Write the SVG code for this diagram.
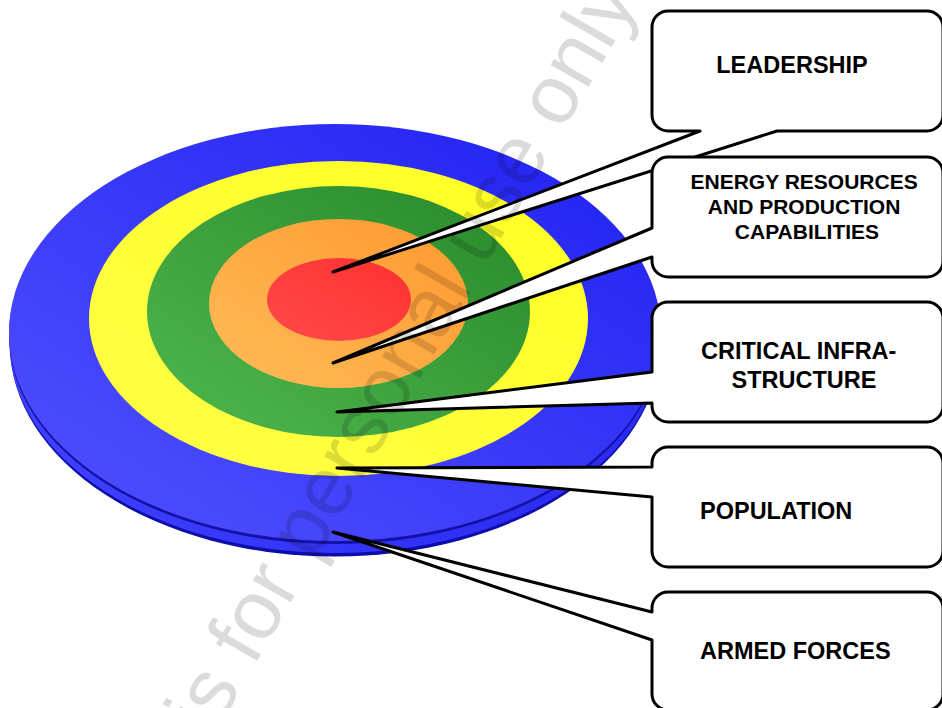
<svg xmlns="http://www.w3.org/2000/svg" width="942" height="708" viewBox="0 0 942 708">
  <defs>
    <linearGradient id="gBlue" x1="0" y1="1" x2="1" y2="0">
      <stop offset="0" stop-color="#5252ff"/>
      <stop offset="1" stop-color="#2020f2"/>
    </linearGradient>
    <linearGradient id="gYellow" x1="0" y1="1" x2="1" y2="0">
      <stop offset="0" stop-color="#ffff48"/>
      <stop offset="1" stop-color="#ffff22"/>
    </linearGradient>
    <linearGradient id="gGreen" x1="0" y1="1" x2="1" y2="0">
      <stop offset="0" stop-color="#50b84e"/>
      <stop offset="1" stop-color="#28882a"/>
    </linearGradient>
    <linearGradient id="gOrange" x1="0" y1="1" x2="1" y2="0">
      <stop offset="0" stop-color="#ffbc58"/>
      <stop offset="1" stop-color="#ff982e"/>
    </linearGradient>
    <linearGradient id="gRed" x1="0" y1="1" x2="1" y2="0">
      <stop offset="0" stop-color="#ff4a4a"/>
      <stop offset="1" stop-color="#ff3030"/>
    </linearGradient>
    <linearGradient id="gRim" x1="0" y1="0" x2="1" y2="0">
      <stop offset="0" stop-color="#4040ff"/>
      <stop offset="1" stop-color="#2a2af0"/>
    </linearGradient>
  </defs>
  <style>
    .callout { fill: #ffffff; stroke: #000000; stroke-width: 3; stroke-linejoin: round; }
    .label { font-family: "Liberation Sans", Arial, sans-serif; font-weight: bold; font-size: 23.5px; fill: #000000; }
    .label.small { font-size: 21px; }
    .watermark { font-family: "Liberation Sans", Arial, sans-serif; font-size: 83px; fill: #000000; fill-opacity: 0.14; }
  </style>

  <rect width="942" height="708" fill="#ffffff"/>

  <!-- target disk: rim layers, then the top face and its rings -->
  <g id="target">
    <ellipse cx="335" cy="345" rx="325" ry="211.5" fill="#0d0dac"/>
    <ellipse cx="335" cy="342.5" rx="325.5" ry="210.5" fill="url(#gRim)"/>
    <ellipse cx="335" cy="335" rx="326" ry="209" fill="#1212a8"/>
    <ellipse cx="335" cy="332.5" rx="326" ry="208.5" fill="url(#gBlue)"/>
    <ellipse cx="338.5" cy="318.5" rx="249.5" ry="157.5" fill="url(#gYellow)"/>
    <ellipse cx="338.5" cy="311.5" rx="191.5" ry="125.5" fill="url(#gGreen)"/>
    <ellipse cx="338.5" cy="303.5" rx="129.5" ry="84.5" fill="url(#gOrange)"/>
    <ellipse cx="339" cy="299.5" rx="72" ry="41.5" fill="url(#gRed)"/>
  </g>

  <!-- callouts: each box carries its own pointer into the target -->
  <g id="leadership">
    <path class="callout" d="M668,11 H927 A16,16 0 0 1 943,27 V115 A16,16 0 0 1 927,131 H777 L333,272 L700,131 H668 A16,16 0 0 1 652,115 V27 A16,16 0 0 1 668,11 Z"/>
    <text class="label" x="792" y="73" text-anchor="middle">LEADERSHIP</text>
  </g>

  <g id="energy">
    <path class="callout" d="M668,157 H927 A16,16 0 0 1 943,173 V261 A16,16 0 0 1 927,277 H668 A16,16 0 0 1 652,261 V257 L333,363 L652,228 V173 A16,16 0 0 1 668,157 Z"/>
    <text class="label small" text-anchor="middle">
      <tspan x="807" y="189">ENERGY RESOURCES</tspan>
      <tspan x="807" y="214">AND PRODUCTION</tspan>
      <tspan x="807" y="239">CAPABILITIES</tspan>
    </text>
  </g>

  <g id="critical-infrastructure">
    <path class="callout" d="M668,302 H927 A16,16 0 0 1 943,318 V406 A16,16 0 0 1 927,422 H668 A16,16 0 0 1 652,406 V403 L337,412 L652,372 V318 A16,16 0 0 1 668,302 Z"/>
    <text class="label" text-anchor="middle">
      <tspan x="802" y="359">CRITICAL INFRA-</tspan>
      <tspan x="804" y="388">STRUCTURE</tspan>
    </text>
  </g>

  <g id="population">
    <path class="callout" d="M668,447 H927 A16,16 0 0 1 943,463 V551 A16,16 0 0 1 927,567 H668 A16,16 0 0 1 652,551 V497 L337,468 L652,467 V463 A16,16 0 0 1 668,447 Z"/>
    <text class="label" x="700" y="519">POPULATION</text>
  </g>

  <g id="armed-forces">
    <path class="callout" d="M668,592 H927 A16,16 0 0 1 943,608 V694 A16,16 0 0 1 927,710 H668 A16,16 0 0 1 652,694 V640 L333,532 L652,612 V608 A16,16 0 0 1 668,592 Z"/>
    <text class="label" x="700" y="659">ARMED FORCES</text>
  </g>

  <!-- diagonal watermark -->
  <text class="watermark" x="212" y="739" transform="rotate(-60 212 739)">is for personal use only</text>
</svg>
